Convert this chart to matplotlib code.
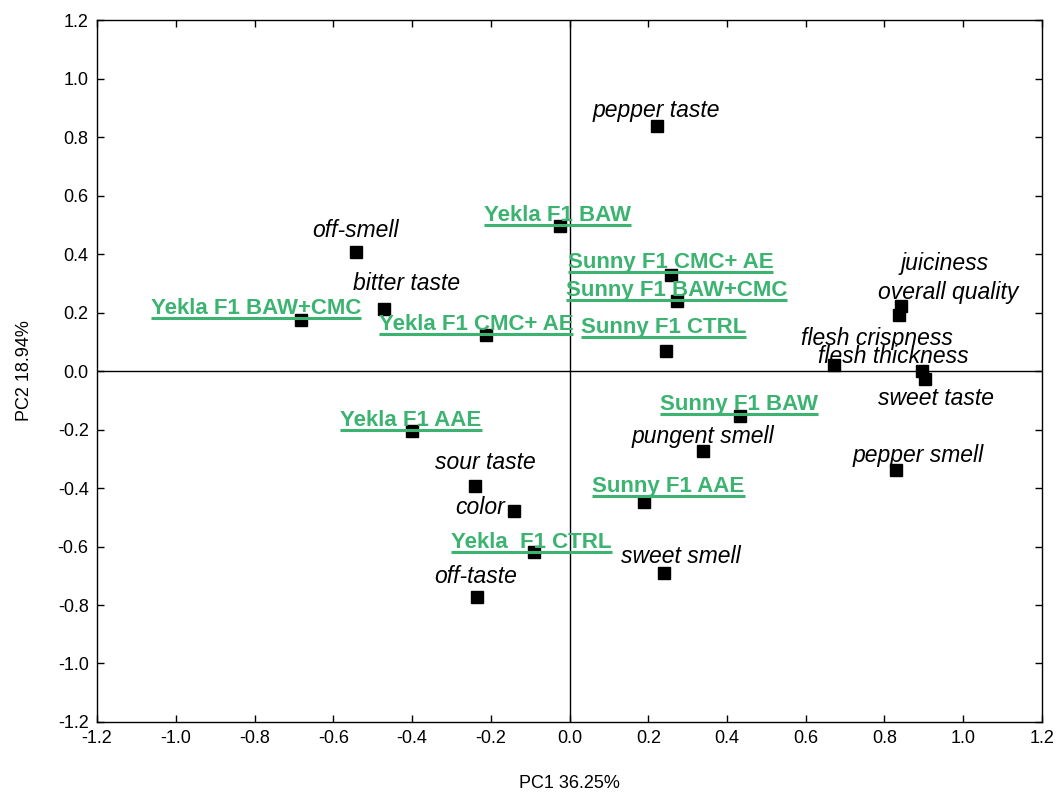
import matplotlib
matplotlib.use("Agg")
import matplotlib.pyplot as plt
import matplotlib.transforms as mtransforms

# sensory attributes (loadings)
attr_names = ["pepper taste", "off-smell", "bitter taste", "juiciness", "overall quality",
              "flesh crispness", "flesh thickness", "sweet taste", "pungent smell",
              "pepper smell", "sour taste", "color", "sweet smell", "off-taste"]
attr_x = [0.221, -0.543, -0.472, 0.843, 0.838, 0.673, 0.894, 0.904, 0.338, 0.828,
          -0.239, -0.140, 0.239, -0.236]
attr_y = [0.838, 0.407, 0.212, 0.222, 0.191, 0.021, 0.000, -0.027, -0.274, -0.338,
          -0.393, -0.479, -0.691, -0.773]

# samples (scores)
samp_names = ["Yekla F1 BAW", "Yekla F1 BAW+CMC", "Yekla F1 CMC+ AE", "Sunny F1 CMC+ AE",
              "Sunny F1 BAW+CMC", "Sunny F1 CTRL", "Sunny F1 BAW", "Yekla F1 AAE",
              "Sunny F1 AAE", "Yekla  F1 CTRL"]
samp_x = [-0.025, -0.681, -0.213, 0.259, 0.274, 0.244, 0.434, -0.399, 0.188, -0.091]
samp_y = [0.496, 0.174, 0.123, 0.328, 0.239, 0.068, -0.154, -0.205, -0.448, -0.619]

# label anchors
attr_lx = [0.221, -0.543, -0.414, 0.952, 0.963, 0.782, 0.823, 0.930, 0.338, 0.886,
           -0.213, -0.226, 0.282, -0.239]
attr_ly = [0.868, 0.458, 0.277, 0.345, 0.246, 0.089, 0.027, -0.116, -0.246, -0.311,
           -0.335, -0.489, -0.656, -0.725]
samp_lx = [-0.218, -1.064, -0.485, -0.005, -0.010, 0.028, 0.231, -0.582, 0.058, -0.300]
samp_ly = [0.499, 0.181, 0.126, 0.338, 0.243, 0.116, -0.147, -0.202, -0.427, -0.619]

ticks = [-1.2, -1.0, -0.8, -0.6, -0.4, -0.2, 0.0, 0.2, 0.4, 0.6, 0.8, 1.0, 1.2]
green = "#3cb371"

plt.rcParams['font.family'] = ['Liberation Sans', 'DejaVu Sans']
fig = plt.figure(figsize=(10.57, 7.94), dpi=100)
ax = fig.add_axes([0.0918, 0.0907, 0.894, 0.884])
ax.set_xlim(-1.2, 1.2)
ax.set_ylim(-1.2, 1.2)

ax.axhline(0, color="black", lw=1.0, zorder=1)
ax.axvline(0, color="black", lw=1.0, zorder=1)

ax.plot(attr_x, attr_y, "s", color="black", ms=9, ls="none", zorder=3)
ax.plot(samp_x, samp_y, "s", color="black", ms=9, ls="none", zorder=3)

for n, x, y in zip(attr_names, attr_lx, attr_ly):
    ax.text(x, y, n, ha="center", va="baseline", style="italic", fontsize=16.5,
            color="black", zorder=4)

fig.canvas.draw()
renderer = fig.canvas.get_renderer()
up = mtransforms.offset_copy(ax.transData, fig=fig, x=0, y=4, units="dots")
for n, x, y in zip(samp_names, samp_lx, samp_ly):
    t = ax.text(x, y, n, ha="left", va="baseline", fontweight="bold", fontsize=16,
                color=green, transform=up, zorder=4)
    bb = t.get_window_extent(renderer=renderer)
    x1 = ax.transData.inverted().transform((bb.x1, 0))[0]
    ax.plot([x, x1], [y, y], color=green, lw=2.2, solid_capstyle="butt", zorder=4)

ax.set_xlim(-1.2, 1.2)
ax.set_ylim(-1.2, 1.2)
ax.set_xticks(ticks)
ax.set_yticks(ticks)
ax.set_xticklabels([f"{t:.1f}" for t in ticks], fontsize=13)
ax.set_yticklabels([f"{t:.1f}" for t in ticks], fontsize=13)
ax.tick_params(direction="in", top=True, right=True, length=5, width=1, pad=6)
for s in ax.spines.values():
    s.set_linewidth(1.0)

ax.set_xlabel("PC1 36.25%", fontsize=13, labelpad=20)
ax.set_ylabel("PC2 18.94%", fontsize=13, labelpad=18)

fig.savefig("out.png", dpi=100)
